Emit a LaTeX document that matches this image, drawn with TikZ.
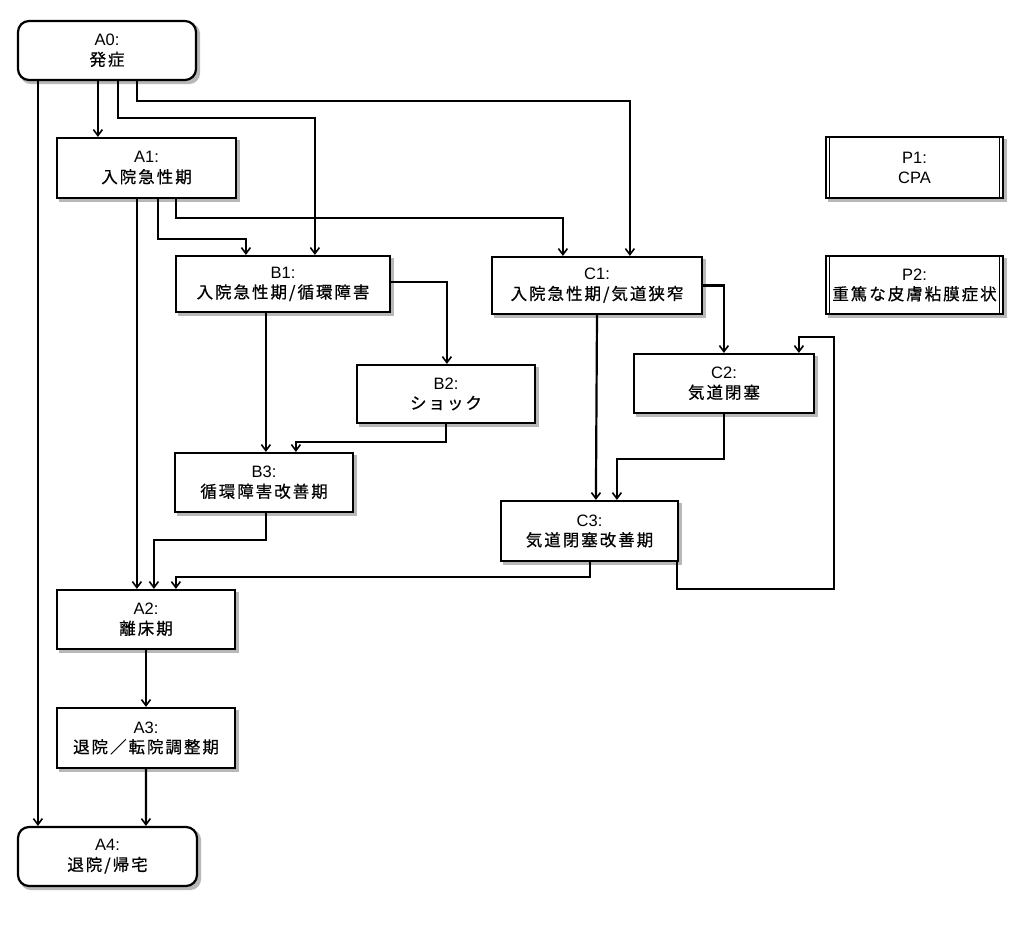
\documentclass[tikz,border=0pt]{standalone}
\usepackage{fontspec}
\setmainfont{Liberation Sans}
\newfontfamily\jp[LetterSpace=12,FakeBold=0.6]{Noto Sans CJK JP}
\usetikzlibrary{arrows.meta}
\pgfdeclarelayer{background}
\pgfsetlayers{background,main}
\begin{document}
\begin{tikzpicture}[x=1pt,y=-1pt,
  box/.style={draw=black,line width=2.2pt,fill=white,inner sep=0pt,align=center,
    font=\fontsize{16.5}{20}\selectfont},
  term/.style={box,rounded corners=11pt},
  proc/.style={box},
  arr/.style={line width=2.2pt,-{Straight Barb[length=6pt,width=9pt,line width=1.6pt]}},
  inner/.style={line width=0.9pt},
  shade/.style={fill=black!28}
]
\useasboundingbox (0,0) rectangle (1009,934);

% phases
\node[term,minimum width=178pt,minimum height=59pt] (A0) at (107,50.5) {A0:\\{\jp 発症}};
\node[proc,minimum width=179pt,minimum height=60pt] (A1) at (146.5,168) {A1:\\{\jp 入院急性期}};
\node[proc,minimum width=214pt,minimum height=56pt] (B1) at (283,284) {B1:\\{\jp 入院急性期/循環障害}};
\node[proc,minimum width=210pt,minimum height=57pt] (C1) at (597,285.5) {C1:\\{\jp 入院急性期/気道狭窄}};
\node[proc,minimum width=178pt,minimum height=58pt] (B2) at (446,394) {B2:\\{\jp ショック}};
\node[proc,minimum width=180pt,minimum height=59pt] (C2) at (724,383.5) {C2:\\{\jp 気道閉塞}};
\node[proc,minimum width=178pt,minimum height=59pt] (B3) at (264,482.5) {B3:\\{\jp 循環障害改善期}};
\node[proc,minimum width=177pt,minimum height=60pt] (C3) at (589.5,531) {C3:\\{\jp 気道閉塞改善期}};
\node[proc,minimum width=178pt,minimum height=59pt] (A2) at (146,619.5) {A2:\\{\jp 離床期}};
\node[proc,minimum width=178pt,minimum height=60pt] (A3) at (146,738) {A3:\\{\jp 退院／転院調整期}};
\node[term,minimum width=179pt,minimum height=59pt] (A4) at (107.5,856.5) {A4:\\{\jp 退院/帰宅}};

% predefined processes (double side bars)
\node[proc,minimum width=177pt,minimum height=61pt] (P1) at (914.5,167.5) {P1:\\CPA};
\node[proc,minimum width=177pt,minimum height=58pt] (P2) at (914.5,285) {P2:\\{\jp 重篤な皮膚粘膜症状}};
\foreach \p in {P1,P2}{
  \draw[inner] ([xshift=4.5pt]\p.north west) -- ([xshift=4.5pt]\p.south west);
  \draw[inner] ([xshift=-4.5pt]\p.north east) -- ([xshift=-4.5pt]\p.south east);
}

% soft shadows behind the boxes
\begin{pgfonlayer}{background}
  \foreach \n in {A1,B1,C1,B2,C2,B3,C3,A2,A3,P1,P2}
    \fill[shade] ([xshift=3pt,yshift=-3pt]\n.north west) rectangle ([xshift=3pt,yshift=-3pt]\n.south east);
  \foreach \n in {A0,A4}
    \fill[shade,rounded corners=11pt] ([xshift=3pt,yshift=-3pt]\n.north west) rectangle ([xshift=3pt,yshift=-3pt]\n.south east);
\end{pgfonlayer}

% transitions from A0
\draw[arr] ([xshift=21pt]A0.south west) -- ([xshift=21pt]A4.north west);
\draw[arr] ([xshift=81pt]A0.south west) -- ([xshift=42pt]A1.north west);
\draw[arr] ([xshift=101pt]A0.south west) -- ++(0,37) -| ([xshift=140pt]B1.north west);
\draw[arr] ([xshift=120pt]A0.south west) -- ++(0,20) -| ([xshift=139pt]C1.north west);

% transitions from A1
\draw[arr] ([xshift=81pt]A1.south west) -- ([xshift=81pt]A2.north west);
\draw[arr] ([xshift=102pt]A1.south west) -- ++(0,40) -| ([xshift=71pt]B1.north west);
\draw[arr] ([xshift=120pt]A1.south west) -- ++(0,19) -| ([xshift=72pt]C1.north west);

% circulatory branch
\draw[arr] ([yshift=2pt]B1.east) -| ([xshift=91pt]B2.north west);
\draw[arr] ([xshift=91pt]B1.south west) -- ([xshift=92pt]B3.north west);
\draw[arr] ([xshift=90pt]B2.south west) -- ++(0,18) -| ([xshift=122pt]B3.north west);
\draw[arr] ([xshift=92pt]B3.south west) -- ++(0,27) -| ([xshift=98pt]A2.north west);

% airway branch
\draw[arr] (C1.east) -| ([xshift=91pt]C2.north west);
\draw[arr] (C1.south) -- ([xshift=96pt]C3.north west);
\draw[arr] ([xshift=91pt]C2.south west) -- ++(0,45) -| ([xshift=117pt]C3.north west);
\draw[arr] ([xshift=-2pt]C3.south east) -- ++(0,27) -- ++(157,0) -- ++(0,-252) -| ([xshift=166pt]C2.north west);
\draw[arr] ([xshift=90pt]C3.south west) -- ++(0,15) -| ([xshift=120pt]A2.north west);

% discharge
\draw[arr] (A2.south) -- (A3.north);
\draw[arr] (A3.south) -- ([xshift=129pt]A4.north west);
\end{tikzpicture}
\end{document}
